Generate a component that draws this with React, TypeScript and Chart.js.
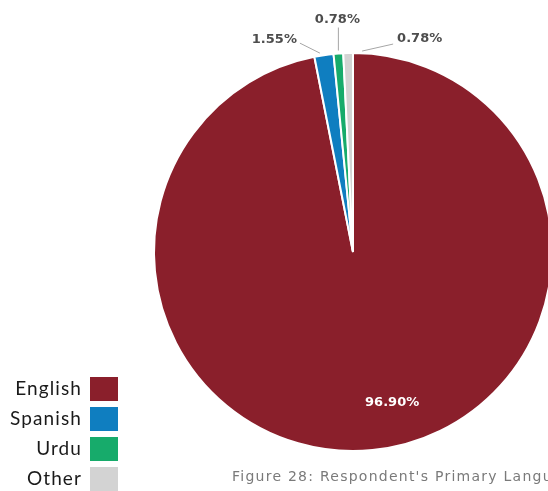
import React, { useEffect, useRef } from "react";
import { Chart, registerables } from "chart.js";

Chart.register(...registerables);

// ---- data ----
const categories = ["English", "Spanish", "Urdu", "Other"];
const shares = [96.9, 1.55, 0.78, 0.78];
const shareLabels = ["96.90%", "1.55%", "0.78%", "0.78%"];
const sliceColors = ["#8A1F2B", "#0F7EC0", "#17AB6B", "#D3D3D3"];
const captionText = "Figure 28: Respondent's Primary Language";

// ---- label styling (offsets relative to the slice's anchor point) ----
type LabelStyle = {
  inside: boolean;
  dx: number;
  dy: number;
  align: CanvasTextAlign;
  line?: [number, number, number, number];
};
const labelStyles: LabelStyle[] = [
  { inside: true, dx: 24, dy: -4, align: "center" },
  { inside: false, dx: -27, dy: -16, align: "right", line: [-4, -2, -24, -12] },
  { inside: false, dx: -1, dy: -34, align: "center", line: [0, -3, 0, -26] },
  { inside: false, dx: 49, dy: -14, align: "left", line: [14, -2, 45, -9] },
];

const sliceLabelPlugin = {
  id: "sliceLabels",
  afterDatasetsDraw(chart: any) {
    const ctx: CanvasRenderingContext2D = chart.ctx;
    const meta = chart.getDatasetMeta(0);
    ctx.save();
    ctx.textBaseline = "middle";
    meta.data.forEach((arc: any, i: number) => {
      const p = arc.getProps(["x", "y", "startAngle", "endAngle", "outerRadius"], true);
      const mid = (p.startAngle + p.endAngle) / 2;
      const st = labelStyles[i];
      const r = st.inside ? p.outerRadius * 0.78 : p.outerRadius;
      const ax = p.x + Math.cos(mid) * r;
      const ay = p.y + Math.sin(mid) * r;
      if (st.line) {
        ctx.strokeStyle = "#A6A6A6";
        ctx.lineWidth = 1;
        ctx.beginPath();
        ctx.moveTo(ax + st.line[0], ay + st.line[1]);
        ctx.lineTo(ax + st.line[2], ay + st.line[3]);
        ctx.stroke();
      }
      ctx.font = "bold 13px 'DejaVu Sans'";
      ctx.fillStyle = st.inside ? "#FFFFFF" : "#4D4D4D";
      ctx.textAlign = st.align;
      ctx.fillText(shareLabels[i], ax + st.dx, ay + st.dy);
    });
    ctx.restore();
  },
};

export default function App() {
  const canvasRef = useRef<HTMLCanvasElement | null>(null);

  useEffect(() => {
    document.body.style.margin = "0";
    const canvas = canvasRef.current;
    if (!canvas) return;
    const chart = new Chart(canvas, {
      type: "pie",
      data: {
        labels: categories,
        datasets: [
          {
            data: shares,
            backgroundColor: sliceColors,
            borderColor: "#FFFFFF",
            borderWidth: 2,
          },
        ],
      },
      options: {
        animation: false,
        responsive: false,
        maintainAspectRatio: false,
        layout: { padding: { left: 153, right: 153, top: 52, bottom: 52 } },
        plugins: {
          legend: { display: false },
          tooltip: { enabled: false },
        },
      },
      plugins: [sliceLabelPlugin],
    });
    return () => chart.destroy();
  }, []);

  return (
    <div
      style={{
        position: "relative",
        width: 548,
        height: 491,
        overflow: "hidden",
        background: "#FFFFFF",
      }}
    >
      <canvas
        ref={canvasRef}
        width={706}
        height={504}
        style={{ position: "absolute", left: 0, top: 0, width: 706, height: 504 }}
      />
      <div style={{ position: "absolute", left: 0, top: 377, width: 118 }}>
        {categories.map((c, i) => (
          <div
            key={c}
            style={{
              display: "flex",
              alignItems: "center",
              justifyContent: "flex-end",
              height: 24,
              marginBottom: 6,
            }}
          >
            <span
              style={{
                fontFamily: "Lato, sans-serif",
                fontSize: 19,
                letterSpacing: 1.1,
                color: "#1A1A1A",
                marginRight: 8,
                lineHeight: "22px",
                marginTop: -3,
              }}
            >
              {c}
            </span>
            <span
              style={{
                display: "inline-block",
                width: 28,
                height: 24,
                background: sliceColors[i],
              }}
            />
          </div>
        ))}
      </div>
      <div
        style={{
          position: "absolute",
          left: 232,
          top: 466,
          whiteSpace: "nowrap",
          fontFamily: "'DejaVu Sans', sans-serif",
          fontSize: 14,
          letterSpacing: 1.25,
          color: "#7A7A7A",
          lineHeight: "20px",
        }}
      >
        {captionText}
      </div>
    </div>
  );
}
